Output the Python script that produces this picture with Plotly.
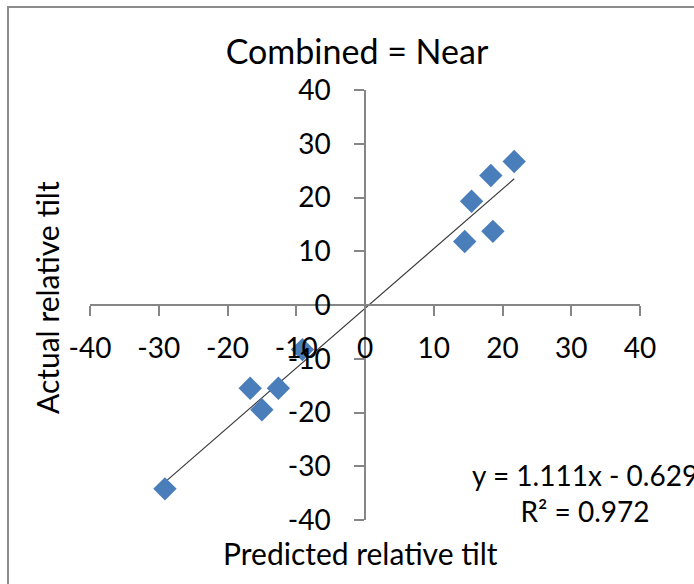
import plotly.graph_objects as go

# ---- data ----
pred_x = [21.7, 18.3, 15.5, 18.6, 14.5, -9.1, -16.7, -12.6, -15.0, -29.1]
actual_y = [26.7, 24.1, 19.3, 13.7, 11.8, -8.3, -15.5, -15.5, -19.5, -34.2]
trend_slope = 1.111
trend_intercept = -0.629
r_squared = 0.972
tick_values = [-40, -30, -20, -10, 0, 10, 20, 30, 40]
tick_labels = ["-40", "-30", "-20", "-10", "0", "10", "20", "30", "40"]

FONT = "Lato, 'Liberation Sans', sans-serif"
W, H = 694, 584
L, R, T, B = 90, 54, 90, 64
PW, PH = W - L - R, H - T - B

def px_x(p):
    return (p - L) / PW

def px_y(p):
    return (H - B - p) / PH

tx = [min(pred_x), max(pred_x)]
ty = [trend_slope * v + trend_intercept for v in tx]

fig = go.Figure()
fig.add_trace(go.Scatter(x=tx, y=ty, mode="lines",
                         line=dict(color="#3a3a3a", width=1.2),
                         showlegend=False, hoverinfo="skip"))
fig.add_trace(go.Scatter(x=pred_x, y=actual_y, mode="markers",
                         marker=dict(symbol="diamond", size=18, color="#4a7ebb",
                                     line=dict(width=0)),
                         showlegend=False))

axis_common = dict(
    range=[-40, 40], tickvals=tick_values, ticktext=tick_labels,
    showgrid=False, zeroline=False, showline=True,
    linecolor="#868686", linewidth=1.5,
    ticks="outside", ticklen=10, tickcolor="#868686", tickwidth=1.5,
    tickfont=dict(family=FONT, size=28, color="#000000"),
    anchor="free", position=0.5,
)

fig.update_layout(
    width=W, height=H,
    margin=dict(l=L, r=R, t=T, b=B),
    plot_bgcolor="white", paper_bgcolor="white",
    xaxis=dict(**axis_common, ticklabelstandoff=9),
    yaxis=dict(**axis_common, ticklabelstandoff=18),
    title=dict(text="Combined = Near", x=357 / W, xref="container", xanchor="center",
               y=1 - 52 / H, yref="container", yanchor="middle",
               font=dict(family=FONT, size=34, color="#000000")),
)

fig.add_annotation(text="Predicted relative tilt", xref="paper", yref="paper",
                   x=px_x(360), y=px_y(553), xanchor="center", yanchor="middle",
                   showarrow=False, font=dict(family=FONT, size=30, color="#000000"))
fig.add_annotation(text="Actual relative tilt", xref="paper", yref="paper",
                   x=px_x(47), y=px_y(298), xanchor="center", yanchor="middle",
                   textangle=-90, showarrow=False,
                   font=dict(family=FONT, size=30, color="#000000"))
fig.add_annotation(text=f"y = {trend_slope}x - {abs(trend_intercept)}<br>R² = {r_squared}",
                   xref="paper", yref="paper", x=px_x(585), y=px_y(493),
                   xanchor="center", yanchor="middle", align="center",
                   showarrow=False, font=dict(family=FONT, size=28, color="#000000"))

# chart-area frame (only its top and left edges fall inside the picture)
fig.add_shape(type="rect", xref="paper", yref="paper",
              x0=px_x(8), x1=px_x(760), y0=px_y(7), y1=px_y(660),
              line=dict(color="#8c8c8c", width=2), fillcolor="rgba(0,0,0,0)")

fig.write_html("out.html", config={"displayModeBar": False},
               post_script="document.body.style.margin='0';document.body.style.overflow='hidden';")
